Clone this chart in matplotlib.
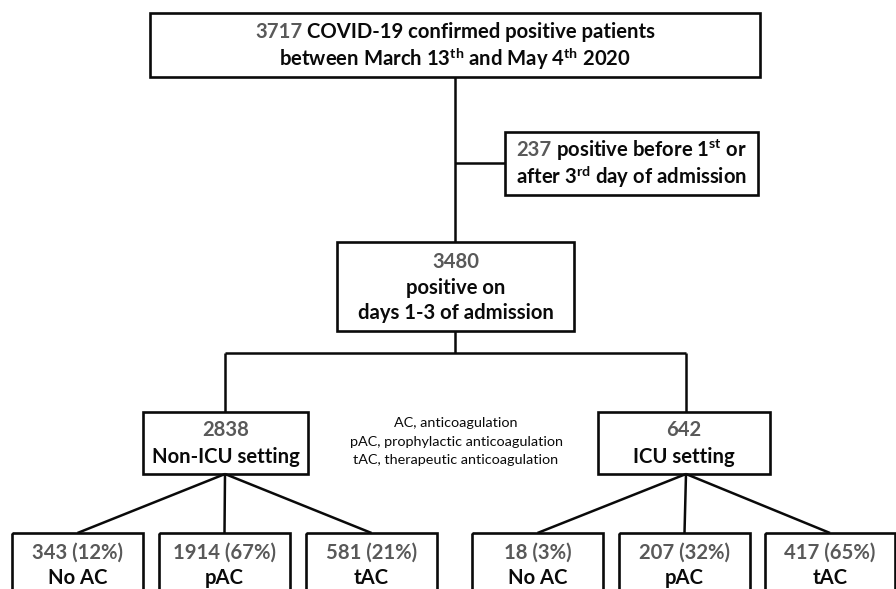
import matplotlib
matplotlib.use("Agg")
import matplotlib.pyplot as plt
from matplotlib.patches import Rectangle

# ---------------- data ----------------
total_patients = 3717
excluded_patients = 237
included_patients = 3480
settings = ["Non-ICU setting", "ICU setting"]
setting_counts = [2838, 642]
ac_groups = ["No AC", "pAC", "tAC"]
nonicu_counts = [343, 1914, 581]
nonicu_pct = [12, 67, 21]
icu_counts = [18, 207, 417]
icu_pct = [3, 32, 65]
legend_lines = ["AC, anticoagulation",
                "pAC, prophylactic anticoagulation",
                "tAC, therapeutic anticoagulation"]

# ---------------- style ----------------
plt.rcParams["font.family"] = ["Lato", "DejaVu Sans"]
plt.rcParams["mathtext.fontset"] = "custom"
plt.rcParams["mathtext.rm"] = "Lato:bold"
plt.rcParams["mathtext.it"] = "Lato:bold"
plt.rcParams["mathtext.bf"] = "Lato:bold"

GRAY = "#595959"
BLACK = "#0a0a0a"
LW = 1.9
FS = 14.6

W, H = 896, 589
fig = plt.figure(figsize=(W / 100, H / 100), dpi=100)
ax = fig.add_axes([0, 0, 1, 1])
ax.set_xlim(0, W)
ax.set_ylim(H, 0)
ax.axis("off")
renderer = fig.canvas.get_renderer()


def box(x0, y0, x1, y1):
    ax.add_patch(Rectangle((x0, y0), x1 - x0, y1 - y0, fill=False,
                           edgecolor=BLACK, lw=LW, zorder=2))


def line(xs, ys):
    ax.plot(xs, ys, color=BLACK, lw=LW * 0.95, solid_capstyle="butt", zorder=1)


def text(x, y, s, color=BLACK, size=FS, weight="bold"):
    return ax.text(x, y, s, color=color, fontsize=size, fontweight=weight,
                   ha="center", va="center", zorder=3)


def two_tone(x, y, num, rest, size=FS):
    """Gray number followed by black text, centered as one line."""
    full = ax.text(x, y, f"{num} {rest}", fontsize=size, fontweight="bold",
                   ha="center", va="center")
    bb = full.get_window_extent(renderer)
    inv = ax.transData.inverted()
    (lx, _), (rx, _) = inv.transform([(bb.x0, 0), (bb.x1, 0)])
    full.remove()
    ax.text(lx, y, f"{num}", color=GRAY, fontsize=size, fontweight="bold",
            ha="left", va="center", zorder=3)
    ax.text(rx, y, rest, color=BLACK, fontsize=size, fontweight="bold",
            ha="right", va="center", zorder=3)


# ---------------- top box ----------------
box(150, 13, 760, 77)
two_tone(455, 32, total_patients, "COVID-19 confirmed positive patients")
text(455, 59, r"between March 13$^{\mathrm{th}}$ and May 4$^{\mathrm{th}}$ 2020")

# main vertical + exclusion branch
line([455, 455], [77, 242])
line([455, 505], [163, 163])
box(505, 132, 758, 195)
two_tone(631.5, 150, excluded_patients, r"positive before 1$^{\mathrm{st}}$ or")
text(631.5, 177, r"after 3$^{\mathrm{rd}}$ day of admission")

# included box
box(337, 242, 574, 331)
text(455.5, 262, f"{included_patients}", color=GRAY)
text(455.5, 288, "positive on")
text(455.5, 313, "days 1-3 of admission")

# split
line([455, 455], [331, 353])
centers = [225, 686]
line([centers[0], centers[1]], [353, 353])
for c in centers:
    line([c, c], [353, 412])

setting_boxes = [(143, 308), (598, 770)]
for (x0, x1), c, name, n in zip(setting_boxes, centers, settings, setting_counts):
    box(x0, 412, x1, 474)
    text((x0 + x1) / 2, 430, f"{n}", color=GRAY)
    text((x0 + x1) / 2, 457, name)

# legend
for i, s in enumerate(legend_lines):
    ax.text(456, 423 + i * 18.5, s, fontsize=10.4, fontweight="normal",
            color=BLACK, ha="center", va="center")

# bottom boxes
bottom_boxes = [[(12, 143), (159, 290), (306, 437)],
                [(472, 603), (619, 750), (765, 895)]]
group_data = [(nonicu_counts, nonicu_pct), (icu_counts, icu_pct)]
for c, bxs, (counts, pcts) in zip(centers, bottom_boxes, group_data):
    for (x0, x1), g, n, p in zip(bxs, ac_groups, counts, pcts):
        mx = (x0 + x1) / 2
        line([c, mx], [474, 533])
        box(x0, 533, x1, 620)
        text(mx, 553, f"{n} ({p}%)", color=GRAY)
        text(mx, 578, g)

fig.savefig("out.png", dpi=100)
